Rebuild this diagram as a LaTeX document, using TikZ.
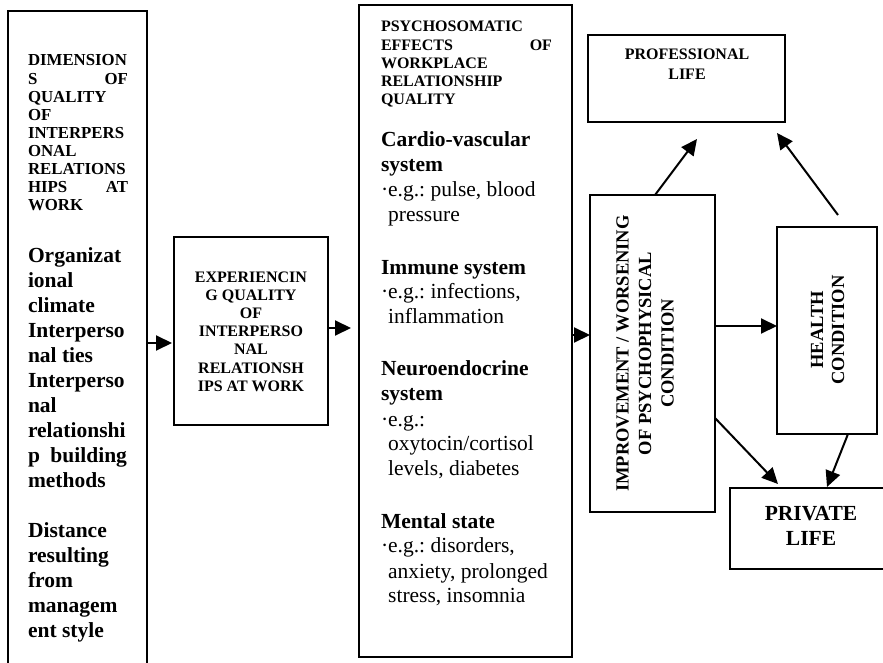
\documentclass[tikz,border=0pt]{standalone}
\usepackage{fontspec}
\setmainfont{Liberation Serif}
\usetikzlibrary{arrows.meta,calc}
\newcommand\hfont{\fontsize{16}{18.2}\selectfont\bfseries}
\newcommand\lhfont{\fontsize{16.8}{18.1}\selectfont\bfseries}
\newcommand\bfont{\fontsize{21.5}{25}\selectfont}
\frenchspacing
\begin{document}
\begin{tikzpicture}[x=1pt,y=-1pt,
  box/.style={draw,line width=1.7pt,inner sep=0pt,outer sep=0pt},
  txt/.style={inner sep=0pt,outer sep=0pt,anchor=base west},
  rtxt/.style={inner sep=0pt,outer sep=0pt,rotate=90,align=center},
  arr/.style={line width=2pt,-{Triangle[length=16pt,width=15pt]}}]
\fill[white] (0,0) rectangle (883,663);
\useasboundingbox (0,0) rectangle (883,663);

% boxes
\node[box,minimum width=139pt,minimum height=689pt] (left) at (77.5,355.5) {};
\node[box,minimum width=154pt,minimum height=188pt] (middle) at (251,331) {};
\node[box,minimum width=213pt,minimum height=652pt] (psycho) at (465.5,331) {};
\node[box,minimum width=197pt,minimum height=87pt] (prof) at (686.5,78.5) {};
\node[box,minimum width=125pt,minimum height=317pt] (improv) at (652.5,353.5) {};
\node[box,minimum width=100pt,minimum height=207pt] (health) at (827,330.5) {};
\node[box,minimum width=162pt,minimum height=81pt] (private) at (811,528.5) {};

% texts
\node[txt] (lefthead) at (28,66) {\parbox[t]{100pt}{\lhfont\raggedright
  DIMENSION\\ S\hfill OF\\ QUALITY\\ OF\\ INTERPERS\\ ONAL\\ RELATIONS\\ HIPS\hfill AT\\ WORK}};
\node[txt] (leftbody) at (28,262) {\parbox[t]{99pt}{\bfont\bfseries\raggedright
  Organizat\\ ional\\ climate\\ Interperso\\ nal ties\\ Interperso\\ nal\\ relationshi\\ p\hfill building\\ methods\\[25pt]
  Distance\\ resulting\\ from\\ managem\\ ent style}};

\node[txt,anchor=base] (midtext) at (251,282) {\parbox[t]{150pt}{\hfont\centering
  EXPERIENCIN\\ G QUALITY\\ OF\\ INTERPERSO\\ NAL\\ RELATIONSH\\ IPS AT WORK}};

\node[txt] (psyhead) at (381,32) {\parbox[t]{171pt}{\hfont\raggedright
  PSYCHOSOMATIC\\ EFFECTS\hfill OF\\ WORKPLACE\\ RELATIONSHIP\\ QUALITY}};
\node[txt] (psybody) at (381,147) {\parbox[t]{185pt}{\bfont\raggedright
  \textbf{Cardio-vascular}\\ \textbf{system}\\ ·e.g.: pulse, blood\\ \phantom{·}pressure\\[27pt]
  \textbf{Immune system}\\ ·e.g.: infections,\\ \phantom{·}inflammation\\[27pt]
  \textbf{Neuroendocrine}\\ \textbf{system}\\ ·e.g.:\\ \phantom{·}oxytocin/cortisol\\ \phantom{·}levels, diabetes\\[27pt]
  \textbf{Mental state}\\ ·e.g.: disorders,\\ \phantom{·}anxiety, prolonged\\ \phantom{·}stress, insomnia}};

\node[txt,anchor=base] (proftext) at (687,60) {\parbox[t]{190pt}{\fontsize{16}{20}\selectfont\bfseries\centering
  PROFESSIONAL\\ LIFE}};
\node[txt,anchor=base] (privtext) at (811,520) {\parbox[t]{150pt}{\bfont\bfseries\centering
  PRIVATE\\ LIFE}};

\node[rtxt,font=\fontsize{18.5}{22.5}\selectfont\bfseries] (imptext) at (645,353.5)
  {IMPROVEMENT / WORSENING\\ OF PSYCHOPHYSICAL\\ CONDITION};
\node[rtxt,font=\fontsize{18.5}{21}\selectfont\bfseries] (healthtext) at (827.5,330)
  {HEALTH\\ CONDITION};

% connectors
\coordinate (a1) at ([xshift=-2pt,yshift=-12pt]middle.west);
\draw[arr] (left.east |- a1) -- (a1);
\coordinate (a2s) at ([yshift=3pt]middle.east);
\coordinate (a2) at ([xshift=-8pt]psycho.west |- a2s);
\draw[arr] (a2s) -- (a2);
\coordinate (a3s) at ([yshift=-4pt]psycho.east);
\draw[arr] (a3s) -- (improv.west |- a3s);
\coordinate (a4) at ([yshift=4.5pt]health.west);
\draw[arr] (improv.east |- a4) -- (a4);
\coordinate (a5) at ([xshift=10.5pt,yshift=-17pt]prof.south);
\draw[arr] ([xshift=2.5pt]improv.north) -- (a5);
\coordinate (a6s) at ([xshift=11pt,yshift=12pt]health.north);
\coordinate (a6) at ([xshift=90.5pt,yshift=-11pt]prof.south);
\draw[arr] (a6s) -- (a6);
\coordinate (a7) at ([xshift=-33pt,yshift=4pt]private.north);
\draw[arr] ([yshift=-64.5pt]improv.east) -- (a7);
\draw[arr] ([xshift=21pt]health.south) -- ([xshift=16pt,yshift=1pt]private.north);
\end{tikzpicture}
\end{document}
